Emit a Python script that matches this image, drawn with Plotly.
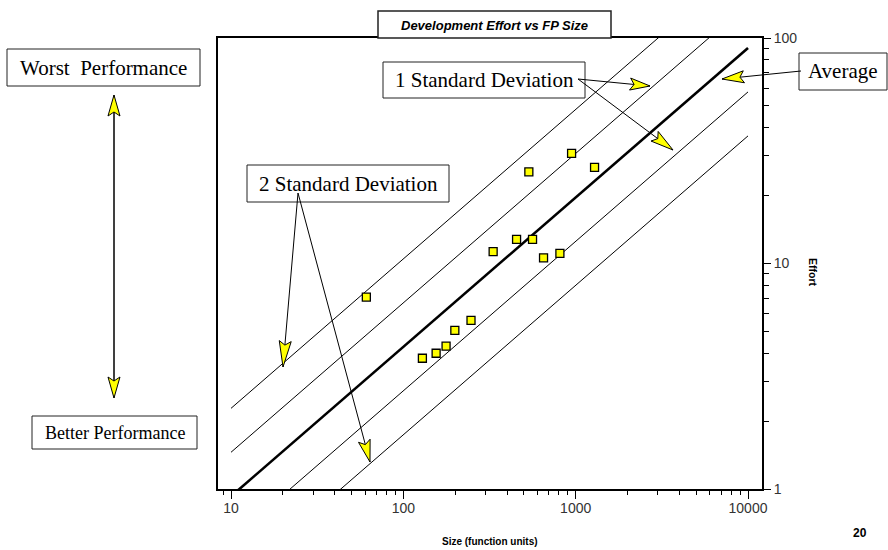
import math
import plotly.graph_objects as go

# Project data: size in function points and development effort
size_fp = [61, 129, 155, 177, 199, 247, 332, 454, 535, 562, 651, 810, 947, 1287]
effort = [7.1, 3.8, 4.0, 4.3, 5.05, 5.6, 11.3, 12.8, 25.5, 12.8, 10.6, 11.1, 30.8, 26.7]

# Regression line (average) and standard-deviation bands, evaluated at the ends of the range
fit_size = [10, 10000]
fit_avg = [0.928, 90.3]
fit_plus1 = [1.455, 141.5]
fit_plus2 = [2.279, 221.7]
fit_minus1 = [0.5925, 57.66]
fit_minus2 = [0.3782, 36.8]

x_tick_vals = [10, 100, 1000, 10000]
x_tick_text = ["10", "100", "1000", "10000"]
y_tick_vals = [1, 10, 100]
y_tick_text = ["1", "10", "100"]
minor_vals = [m * 10 ** d for d in range(0, 5) for m in range(2, 10)]

W, H = 888, 550
L, R, T, B = 218, 762, 38, 489  # plot area in page pixels


def px(x):
    return (x - L) / (R - L)


def py(y):
    return (B - y) / (B - T)


fig = go.Figure()

band_style = dict(color="black", width=1)
for ys in (fit_plus2, fit_plus1, fit_minus1, fit_minus2):
    fig.add_trace(go.Scatter(x=fit_size, y=ys, mode="lines", line=band_style,
                             hoverinfo="skip", showlegend=False))
fig.add_trace(go.Scatter(x=fit_size, y=fit_avg, mode="lines",
                         line=dict(color="black", width=2.6),
                         hoverinfo="skip", showlegend=False))
fig.add_trace(go.Scatter(x=size_fp, y=effort, mode="markers", showlegend=False,
                         marker=dict(symbol="square", size=8, color="#ffff00",
                                     line=dict(color="black", width=1.3))))

shapes = []
annotations = []

serif = "Liberation Serif, Times New Roman, serif"


def text_box(x0, y0, x1, y1, text, size):
    shapes.append(dict(type="rect", xref="paper", yref="paper",
                       x0=px(x0), x1=px(x1), y0=py(y1), y1=py(y0),
                       line=dict(color="#222", width=1), fillcolor="white"))
    annotations.append(dict(xref="paper", yref="paper", x=px((x0 + x1) / 2),
                            y=py((y0 + y1) / 2), text=text, showarrow=False,
                            xanchor="center", yanchor="middle",
                            font=dict(family=serif, size=size, color="black")))


def arrow(ox, oy, tx, ty, length=22, half=6, notch=4):
    shapes.append(dict(type="line", xref="paper", yref="paper",
                       x0=px(ox), y0=py(oy), x1=px(tx), y1=py(ty),
                       line=dict(color="black", width=1)))
    dx, dy = tx - ox, ty - oy
    n = math.hypot(dx, dy)
    ux, uy = dx / n, dy / n
    nx, ny = -uy, ux
    bx, by = tx - ux * length, ty - uy * length
    pts = [(tx, ty),
           (bx + nx * half, by + ny * half),
           (tx - ux * (length - notch), ty - uy * (length - notch)),
           (bx - nx * half, by - ny * half)]
    path = "M " + " L ".join(f"{px(a):.5f},{py(b):.5f}" for a, b in pts) + " Z"
    shapes.append(dict(type="path", xref="paper", yref="paper", path=path,
                       fillcolor="#ffff00", line=dict(color="black", width=1)))


# Chart title box sitting on the frame
shapes.append(dict(type="rect", xref="paper", yref="paper",
                   x0=px(378), x1=px(611), y0=py(38), y1=py(11),
                   line=dict(color="#222", width=1.5), fillcolor="white"))
annotations.append(dict(xref="paper", yref="paper", x=px(494.5), y=py(25),
                        text="<b><i>Development Effort vs FP Size</i></b>",
                        showarrow=False, xanchor="center", yanchor="middle",
                        font=dict(family="Liberation Sans, Arial, sans-serif",
                                  size=13, color="black")))

text_box(7, 49, 200, 86, "Worst&nbsp; Performance", 21)
text_box(32, 416, 197, 449, "Better Performance", 18)
text_box(247, 165, 449, 202, "2 Standard Deviation", 21)
text_box(383, 62, 585, 98, "1 Standard Deviation", 21)
text_box(799, 53, 887, 90, "Average", 21)

# Worst / better double arrow
shapes.append(dict(type="line", xref="paper", yref="paper",
                   x0=px(114), y0=py(110), x1=px(114), y1=py(385),
                   line=dict(color="black", width=1)))
arrow(114, 250, 114, 95, length=21)
arrow(114, 250, 114, 398, length=21)

arrow(298, 193, 283, 367, length=26)
arrow(298, 193, 370, 462, length=22)
arrow(578, 79, 650, 86, length=20)
arrow(578, 79, 673, 150, length=23)
arrow(801, 71, 722, 79, length=22)

bold_sans = "Liberation Sans, Arial, sans-serif"
annotations.append(dict(xref="paper", yref="paper", x=px(490), y=py(541),
                        text="<b>Size (function units)</b>", showarrow=False,
                        xanchor="center", yanchor="middle",
                        font=dict(family=bold_sans, size=10, color="black")))
annotations.append(dict(xref="paper", yref="paper", x=px(813), y=py(272),
                        text="<b>Effort</b>", showarrow=False, textangle=90,
                        xanchor="center", yanchor="middle",
                        font=dict(family=bold_sans, size=10.5, color="black")))
annotations.append(dict(xref="paper", yref="paper", x=px(851), y=py(533),
                        text="<b>20</b>", showarrow=False,
                        xanchor="left", yanchor="middle",
                        font=dict(family=bold_sans, size=12, color="black")))

tick_font = dict(family="Liberation Sans, Arial, sans-serif", size=14, color="#333")

fig.update_layout(
    width=W, height=H,
    margin=dict(l=L, r=W - R, t=T, b=H - B, pad=0),
    paper_bgcolor="white", plot_bgcolor="white",
    shapes=shapes, annotations=annotations,
    xaxis=dict(type="log", range=[math.log10(10) - 13 / 172.4, math.log10(10000) + 14 / 172.4],
               tickmode="array", tickvals=x_tick_vals, ticktext=x_tick_text,
               ticks="outside", ticklen=8, tickwidth=1, tickcolor="black",
               ticklabelstandoff=-3,
               showline=True, linewidth=2, linecolor="black", mirror=True,
               showgrid=False, zeroline=False, tickfont=tick_font,
               minor=dict(tickmode="array", tickvals=minor_vals, ticks="outside",
                          ticklen=4, tickwidth=1, tickcolor="black", showgrid=False)),
    yaxis=dict(type="log", range=[0, 2], side="right",
               tickmode="array", tickvals=y_tick_vals, ticktext=y_tick_text,
               ticks="outside", ticklen=7, tickwidth=1, tickcolor="black",
               showline=True, linewidth=2, linecolor="black", mirror=True,
               showgrid=False, zeroline=False, tickfont=tick_font,
               minor=dict(tickmode="array", tickvals=minor_vals, ticks="outside",
                          ticklen=5, tickwidth=1, tickcolor="black", showgrid=False)),
)

fig.write_html("out.html")
